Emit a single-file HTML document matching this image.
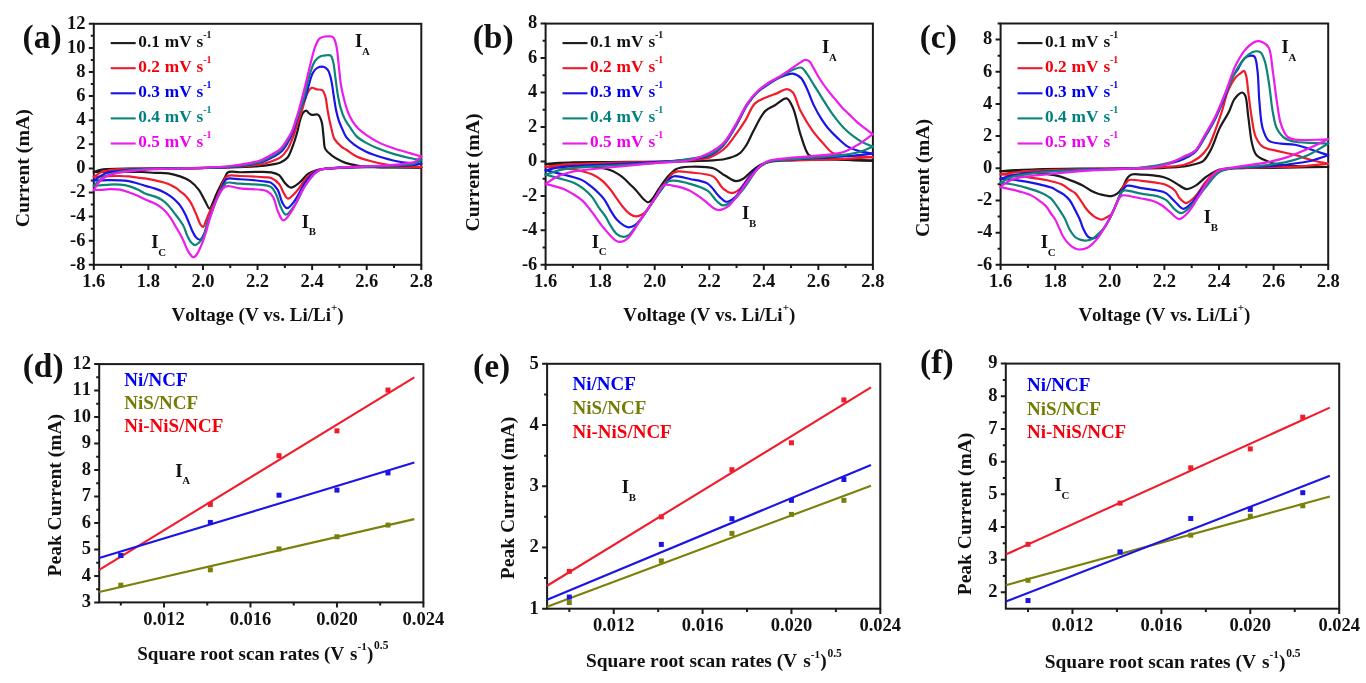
<!DOCTYPE html><html><head><meta charset="utf-8"><style>html,body{margin:0;padding:0;background:#fff;width:1366px;height:683px;overflow:hidden}svg{display:block;will-change:transform;font-kerning:none}</style></head><body>
<svg width="1366" height="683" viewBox="0 0 1366 683" font-family="'Liberation Serif', serif" font-weight="bold" fill="#111">
<rect x="93.8" y="23.8" width="327.5" height="241" fill="none" stroke="#1a1a1a" stroke-width="2.0"/>
<path d="M93.8,264.8v5.2M148.38,264.8v5.2M202.97,264.8v5.2M257.55,264.8v5.2M312.13,264.8v5.2M366.72,264.8v5.2M421.3,264.8v5.2M121.09,264.8v3.2M175.67,264.8v3.2M230.26,264.8v3.2M284.84,264.8v3.2M339.43,264.8v3.2M394.01,264.8v3.2M93.8,264.8h-5M93.8,240.7h-5M93.8,216.6h-5M93.8,192.5h-5M93.8,168.4h-5M93.8,144.3h-5M93.8,120.2h-5M93.8,96.1h-5M93.8,72h-5M93.8,47.9h-5M93.8,23.8h-5M93.8,252.75h-3M93.8,228.65h-3M93.8,204.55h-3M93.8,180.45h-3M93.8,156.35h-3M93.8,132.25h-3M93.8,108.15h-3M93.8,84.05h-3M93.8,59.95h-3M93.8,35.85h-3" stroke="#1a1a1a" stroke-width="2.0" fill="none"/>
<text x="93.8" y="287.4" text-anchor="middle" font-size="18.5">1.6</text>
<text x="148.38" y="287.4" text-anchor="middle" font-size="18.5">1.8</text>
<text x="202.97" y="287.4" text-anchor="middle" font-size="18.5">2.0</text>
<text x="257.55" y="287.4" text-anchor="middle" font-size="18.5">2.2</text>
<text x="312.13" y="287.4" text-anchor="middle" font-size="18.5">2.4</text>
<text x="366.72" y="287.4" text-anchor="middle" font-size="18.5">2.6</text>
<text x="421.3" y="287.4" text-anchor="middle" font-size="18.5">2.8</text>
<text x="85.5" y="269.6" text-anchor="end" font-size="18.5">-8</text>
<text x="85.5" y="245.5" text-anchor="end" font-size="18.5">-6</text>
<text x="85.5" y="221.4" text-anchor="end" font-size="18.5">-4</text>
<text x="85.5" y="197.3" text-anchor="end" font-size="18.5">-2</text>
<text x="85.5" y="173.2" text-anchor="end" font-size="18.5">0</text>
<text x="85.5" y="149.1" text-anchor="end" font-size="18.5">2</text>
<text x="85.5" y="125" text-anchor="end" font-size="18.5">4</text>
<text x="85.5" y="100.9" text-anchor="end" font-size="18.5">6</text>
<text x="85.5" y="76.8" text-anchor="end" font-size="18.5">8</text>
<text x="85.5" y="52.7" text-anchor="end" font-size="18.5">10</text>
<text x="85.5" y="28.6" text-anchor="end" font-size="18.5">12</text>
<path d="M93.8,172.02C96.07,171.29 98.3,170.33 100.62,169.85C102.94,169.36 104.59,169.31 107.72,169.12C113.82,168.76 124.8,168.76 134.74,168.64C146.97,168.5 163.41,168.52 175.67,168.4C185.69,168.3 193.87,168.2 202.97,168.04C212.06,167.88 221.07,167.73 230.26,167.44C239.63,167.13 252.59,166.65 258.64,166.23C261.49,166.03 262.64,165.92 264.92,165.63C267.66,165.28 271.17,164.76 273.92,164.18C276.29,163.69 278.34,163.49 280.47,162.5C282.9,161.37 285.62,159.79 287.57,157.43C289.9,154.62 291.23,150.03 292.76,146.11C294.33,142.05 295.63,137.74 296.85,133.45C298.09,129.11 298.97,123.92 300.12,120.2C301,117.4 301.6,114.63 302.85,112.97C303.76,111.77 305.08,110.5 306.13,110.56C307.18,110.62 308.11,112.58 309.13,113.33C310.03,113.99 310.72,114.62 311.86,114.9C313.43,115.28 316.3,113.8 317.86,114.66C319.56,115.59 320.51,118.15 321.41,120.8C322.79,124.83 322.92,132.08 323.6,137.07C324.18,141.32 323.71,145.77 325.23,148.88C326.53,151.52 328.82,153.12 331.24,155.02C334.11,157.28 338.25,159.6 341.61,161.17C344.5,162.53 347.22,163.42 350.07,164.18C352.86,164.93 355.15,165.32 358.53,165.75C363.5,166.38 369.57,166.77 377.09,167.07C388.67,167.55 406.56,167.4 421.3,167.56" stroke="#1a1a1a" stroke-width="2.2" fill="none" stroke-linejoin="round" stroke-linecap="round"/>
<path d="M421.3,167.56C412.2,167.44 403.11,167.26 394.01,167.19C384.91,167.13 375.81,167.07 366.72,167.19C357.62,167.32 346.06,167.65 339.43,167.92C335.61,168.07 333.27,168.21 330.42,168.4C327.84,168.57 325.38,168.72 323.05,169C320.94,169.26 319.19,169.35 317.05,169.97C314.36,170.74 311.05,171.84 308.31,173.7C305.18,175.83 302.66,180.12 299.58,182.5C296.8,184.64 293.43,187.74 290.85,187.56C288.6,187.4 286.7,184.77 284.84,182.86C282.75,180.72 281.49,176.9 279.11,175.15C276.88,173.51 274.24,172.95 271.2,172.38C267.31,171.65 262.38,171.93 257.55,171.89C252.09,171.85 245.36,172.2 240.08,172.26C235.71,172.3 230.69,170.78 228.08,172.26C226.1,173.38 225.72,176.04 224.53,178.16C223.18,180.54 221.77,183.23 220.43,185.87C219.04,188.61 217.65,191.43 216.34,194.31C215,197.25 213.72,200.71 212.52,203.34C211.56,205.43 210.89,208.85 209.79,208.89C208.38,208.94 206.36,203.15 204.6,200.09C202.72,196.82 201.24,192.99 198.87,189.85C196.44,186.62 193.38,183.33 190.14,181.05C187.07,178.9 183.6,177.62 180.04,176.35C176.33,175.03 172.36,173.93 168.31,173.34C164.09,172.73 159.57,173.08 155.21,172.86C150.84,172.64 146.79,172.2 142.11,172.02C136.7,171.8 130.44,171.81 124.64,171.77C118.89,171.73 112.85,171.73 107.45,171.77C102.63,171.82 98.35,171.93 93.8,172.02" stroke="#1a1a1a" stroke-width="2.2" fill="none" stroke-linejoin="round" stroke-linecap="round"/>
<path d="M93.8,176.84C96.44,175.23 98.7,173.2 101.71,172.02C105.14,170.67 108.93,170.17 113.45,169.61C119.47,168.86 125.63,168.89 134.74,168.64C151.04,168.2 185.35,168.39 202.97,168.04C214.11,167.82 221.08,167.73 230.26,167.19C239.63,166.65 252.61,165.67 258.64,164.78C261.51,164.36 262.4,164.21 264.92,163.46C268.99,162.25 276.54,160.21 280.47,157.43C283.65,155.2 285.57,152.35 287.57,149.24C289.72,145.9 291.22,141.81 292.76,137.91C294.32,133.94 295.4,129.95 296.85,125.62C298.47,120.77 300.31,115.49 302.04,110.2C303.86,104.62 305.33,96.9 307.49,92.97C308.82,90.56 310.21,88.25 311.86,87.79C313.26,87.39 314.85,88.97 316.5,89.35C318.29,89.76 320.79,89.07 322.23,90.08C323.76,91.14 324.44,93.46 325.23,95.86C326.38,99.3 326.67,104.84 327.42,109.11C328.12,113.14 328.82,117.15 329.6,120.8C330.29,124.05 331,126.96 331.78,129.96C332.55,132.9 332.75,135.94 334.24,138.64C335.88,141.61 339.3,144.9 341.61,146.83C343.23,148.19 344.4,148.54 346.25,149.72C349.03,151.51 352.79,154.74 356.62,156.59C360.73,158.58 365.5,159.74 370.26,161.05C375.38,162.46 380.97,163.78 386.37,164.66C391.71,165.54 396.88,165.93 402.47,166.35C408.49,166.8 415.02,166.91 421.3,167.19" stroke="#f01c2c" stroke-width="2.2" fill="none" stroke-linejoin="round" stroke-linecap="round"/>
<path d="M421.3,167.19C412.2,167.11 403.11,166.99 394.01,166.95C384.91,166.91 375.81,166.81 366.72,166.95C357.62,167.09 346.06,167.47 339.43,167.8C335.61,167.98 333.27,168.16 330.42,168.4C327.84,168.61 325.59,168.65 323.05,169.12C320.24,169.64 317.09,170.03 314.32,171.53C311.13,173.26 308.14,176.4 305.31,179.49C302.19,182.89 299.7,187.99 296.58,191.3C293.83,194.2 290.14,198.82 287.84,198.53C285.98,198.29 284.85,194.74 283.48,192.5C281.92,189.95 281.14,186.34 279.11,183.94C277.06,181.51 273.68,179.06 271.2,178.04C269.39,177.3 268.41,177.54 266.01,177.32C260.68,176.81 247.22,176.17 240.08,175.99C235.06,175.86 230.01,174.56 227.26,175.99C225.34,176.99 224.81,179.05 223.71,181.05C222.31,183.57 221.24,186.89 219.89,190.09C218.35,193.71 216.77,197.82 214.98,201.66C213.14,205.58 210.61,209.78 208.97,213.35C207.64,216.25 206.73,219.01 205.7,221.42C204.84,223.42 204.25,226.58 203.24,226.84C202.52,227.03 201.49,225.9 200.78,225.03C199.86,223.89 199.33,221.92 198.6,220.22C197.79,218.33 197,216.21 196.14,214.19C195.27,212.12 194.4,210.01 193.41,207.92C192.4,205.79 191.47,203.57 190.14,201.54C188.76,199.42 186.98,197.27 185.23,195.51C183.6,193.89 181.52,192.55 180.04,191.3C178.89,190.32 178.26,189.53 177.04,188.64C175.43,187.48 173.17,186.16 171.04,185.15C168.81,184.1 166.45,183.28 163.94,182.5C161.2,181.65 158.13,180.97 155.21,180.33C152.3,179.69 149.39,179.08 146.47,178.64C143.57,178.2 140.67,178.06 137.74,177.68C134.76,177.29 131.72,176.63 128.73,176.35C125.81,176.08 123.43,176.03 120,175.99C115.07,175.94 106.82,176.16 101.99,176.35C98.73,176.48 96.53,176.67 93.8,176.84" stroke="#f01c2c" stroke-width="2.2" fill="none" stroke-linejoin="round" stroke-linecap="round"/>
<path d="M93.8,180.45C97.44,178.2 100.66,175.3 104.72,173.7C109.06,171.99 114.09,171.56 119.18,170.81C124.77,169.99 129.12,169.56 136.92,169.12C151.94,168.27 185.74,168.38 202.97,167.92C214.04,167.62 221.09,167.76 230.26,166.95C239.65,166.13 252.63,164.37 258.64,162.98C261.53,162.31 262.42,162.02 264.92,160.93C269.02,159.14 276.54,155.66 280.47,152.25C283.66,149.5 285.53,146.29 287.57,142.97C289.63,139.63 291.23,135.98 292.76,132.25C294.34,128.4 295.47,124.32 296.85,120.2C298.29,115.89 299.65,110.97 301.22,106.95C302.58,103.44 304.38,100.71 305.58,97.3C306.86,93.7 307.42,89.79 308.59,85.86C309.85,81.61 311.1,75.89 312.95,72.72C314.22,70.55 315.49,68.87 317.32,67.9C319.2,66.91 322.29,66.4 324.14,66.94C325.72,67.4 326.98,68.82 327.96,70.19C329.03,71.67 329.53,73.65 330.15,75.61C330.84,77.83 331.25,80.01 331.78,82.85C332.53,86.83 333.22,92.59 333.97,97.3C334.68,101.82 335.27,106.45 336.15,110.56C336.94,114.21 337.76,117.52 338.88,120.8C339.96,123.98 341.4,127.12 342.7,129.96C343.86,132.5 344.57,134.81 346.25,137.07C348.21,139.71 351.1,142.24 354.16,144.54C357.63,147.15 361.77,149.58 366.17,151.65C371.05,153.94 376.55,155.73 382.27,157.43C388.58,159.31 395.81,161.23 402.47,162.25C408.82,163.23 415.02,163.14 421.3,163.58" stroke="#1c14e6" stroke-width="2.2" fill="none" stroke-linejoin="round" stroke-linecap="round"/>
<path d="M421.3,163.58C419.21,164.06 417.3,164.67 415.02,165.03C412.37,165.44 409.45,165.56 406.29,165.75C402.55,165.98 398.91,166.08 394.01,166.23C386.7,166.45 375.81,166.59 366.72,166.83C357.62,167.07 346.06,167.31 339.43,167.68C335.61,167.89 333.27,168.17 330.42,168.4C327.84,168.61 325.47,168.5 323.05,169C320.56,169.52 318.15,169.94 315.68,171.53C312.25,173.74 308.51,178.2 305.31,182.5C301.61,187.47 298.71,195.41 295.21,199.97C292.56,203.43 289.35,208.28 287.02,208.17C285.12,208.07 283.53,204.65 282.11,202.14C280.28,198.89 279.79,193.2 277.75,189.85C275.99,186.97 273.46,184.16 271.2,182.86C269.51,181.89 268.42,182.04 266.01,181.66C260.69,180.79 247.31,179.68 240.08,179.25C234.9,178.93 229.16,177.74 226.71,178.88C225.45,179.47 225.27,180.4 224.53,181.66C223.29,183.75 222.08,187.76 220.71,190.69C219.35,193.58 217.7,196.02 216.34,199.13C214.76,202.74 213.45,207.22 211.97,211.18C210.53,215.05 208.96,218.74 207.61,222.62C206.23,226.57 205.3,231.6 203.79,234.68C202.72,236.82 201.65,239.43 200.24,239.74C198.97,240.02 197.14,238.48 195.87,237.21C194.3,235.62 193.18,232.79 192.05,230.46C190.9,228.09 190.12,225.67 189.05,223.11C187.86,220.27 186.7,217.11 185.23,214.19C183.71,211.2 181.63,207.61 180.04,205.39C178.98,203.91 178.26,203.14 177.04,201.9C175.43,200.26 173.2,198.19 171.04,196.6C168.83,194.97 166.48,193.55 163.94,192.26C161.23,190.88 158.15,189.67 155.21,188.64C152.32,187.63 149.38,186.98 146.47,186.11C143.56,185.25 140.68,184.28 137.74,183.46C134.77,182.63 131.73,181.7 128.73,181.17C125.82,180.66 123.18,180.5 120,180.33C116.2,180.13 111.08,180.17 107.45,180.21C104.66,180.24 102.44,180.41 100.08,180.45C97.9,180.49 95.89,180.45 93.8,180.45" stroke="#1c14e6" stroke-width="2.2" fill="none" stroke-linejoin="round" stroke-linecap="round"/>
<path d="M93.8,185.87C96.44,183.38 98.61,180.46 101.71,178.4C105.08,176.17 109.06,174.58 113.45,173.22C118.61,171.62 125.07,170.69 130.92,169.97C136.72,169.25 140.94,169.19 148.38,168.88C161.53,168.34 187.9,168.28 202.97,167.8C213.63,167.46 221.09,167.47 230.26,166.59C239.65,165.69 252.65,164.05 258.64,162.38C261.56,161.56 262.42,161 264.92,159.72C269.01,157.64 276.54,153.91 280.47,150.33C283.67,147.41 285.58,143.99 287.57,140.69C289.45,137.56 290.78,134.39 292.21,131.05C293.7,127.57 294.94,123.82 296.3,120.2C297.67,116.58 299.09,113.17 300.4,109.35C301.83,105.18 303.25,100.73 304.49,96.1C305.82,91.12 306.79,85.16 308.04,80.44C309.09,76.47 310.07,72.98 311.31,69.59C312.46,66.47 313.4,63.08 315.14,60.79C316.62,58.83 318.68,57.22 320.59,56.33C322.25,55.57 324.07,55.49 325.78,55.37C327.43,55.26 329.49,54.75 330.69,55.61C332.09,56.61 332.46,59.2 333.15,61.76C334.19,65.65 334.61,71.81 335.33,76.94C336.07,82.21 336.63,87.75 337.51,92.97C338.37,97.99 339.2,103.1 340.52,107.67C341.71,111.84 343.1,115.83 344.88,119.36C346.52,122.6 348.64,125.3 350.61,128.15C352.56,130.96 354.14,133.95 356.62,136.35C359.26,138.9 362.72,140.88 366.17,142.85C369.87,144.97 373.83,146.73 378.18,148.52C383.11,150.54 388.56,152.5 394.28,154.18C400.59,156.04 409.51,158.1 414.48,159C417.34,159.52 419.03,159.56 421.3,159.84" stroke="#0c8478" stroke-width="2.2" fill="none" stroke-linejoin="round" stroke-linecap="round"/>
<path d="M421.3,159.84C419.21,161.01 417.37,162.52 415.02,163.34C412.42,164.25 409.46,164.4 406.29,164.78C402.55,165.24 398.91,165.48 394.01,165.75C386.71,166.15 375.81,166.29 366.72,166.59C357.62,166.89 346.06,167.17 339.43,167.56C335.61,167.78 333.27,168.03 330.42,168.28C327.84,168.51 325.34,168.42 323.05,169C320.9,169.55 319.18,169.97 317.05,171.53C313.49,174.14 308.83,180.19 305.31,185.39C301.48,191.05 298.9,199.25 295.21,204.43C292.24,208.6 288.2,214.91 285.66,214.67C283.6,214.48 282.22,209.95 280.75,206.96C278.95,203.32 277.94,197.73 276.11,194.19C274.65,191.36 273.13,188.52 271.2,187.08C269.66,185.93 268.44,185.86 266.01,185.39C260.71,184.37 247.35,184.16 240.08,183.7C234.81,183.37 229.02,181.73 226.44,182.86C225.06,183.46 224.81,184.68 223.98,185.87C222.91,187.41 221.84,189.34 220.71,191.42C219.31,193.96 217.71,196.94 216.34,200.09C214.78,203.69 213.43,207.98 211.97,211.9C210.52,215.81 209.02,219.54 207.61,223.59C206.1,227.91 205.04,233.66 203.24,237.09C201.96,239.52 200.39,241.34 198.87,242.75C197.69,243.85 196.44,245.15 195.22,245.16C193.98,245.16 192.66,243.95 191.5,242.75C189.9,241.07 188.42,238.05 187.14,235.4C185.75,232.54 184.92,228.76 183.59,226.12C182.51,223.97 181.39,222.52 180.04,220.58C178.46,218.3 176.48,215.8 174.58,213.35C172.58,210.75 170.48,207.69 168.31,205.39C166.37,203.35 164.49,201.56 162.3,200.09C160.12,198.63 157.74,197.58 155.21,196.6C152.49,195.54 149.33,195.2 146.47,194.07C143.5,192.89 140.71,190.94 137.74,189.61C134.79,188.29 131.76,186.94 128.73,186.11C125.84,185.32 123.01,184.93 120,184.67C116.83,184.39 113.57,184.43 110.17,184.55C106.5,184.68 101.74,185.27 98.71,185.51C96.73,185.67 95.44,185.75 93.8,185.87" stroke="#0c8478" stroke-width="2.2" fill="none" stroke-linejoin="round" stroke-linecap="round"/>
<path d="M93.8,190.09C95.44,187.56 96.82,184.67 98.71,182.5C100.49,180.46 102.22,178.76 104.72,177.32C107.85,175.51 111.94,174.3 116.45,173.22C122.27,171.83 130.09,171.13 136.92,170.45C143.73,169.77 149.22,169.51 157.39,169.12C169.58,168.55 189.72,168.43 202.97,167.8C213.23,167.31 222.15,166.86 230.26,165.99C236.82,165.28 242.85,164.3 248,163.34C252.01,162.59 255.6,161.93 258.64,160.93C261.05,160.13 262.41,159.45 264.92,158.16C269,156.05 276.56,152.5 280.47,148.88C283.7,145.9 285.57,141.9 287.57,138.88C289.17,136.47 290.43,134.87 291.66,132.25C293.24,128.9 294.52,124 295.76,120.2C296.86,116.82 297.65,114.44 298.76,110.56C300.42,104.75 302.59,96.17 304.49,88.63C306.51,80.62 308.61,71.18 310.5,63.81C312.02,57.84 313.16,52.16 314.86,47.66C316.17,44.21 317.42,40.68 319.23,38.86C320.51,37.58 322.03,37.1 323.6,36.69C325.21,36.28 327.22,36.44 328.78,36.45C330.08,36.47 331.37,36.19 332.33,36.69C333.28,37.2 333.89,38.21 334.51,39.47C335.48,41.41 336.06,44.34 336.7,47.66C337.64,52.64 338.15,60.26 338.88,66.58C339.61,72.91 340.07,79.7 341.06,85.62C341.94,90.86 343.13,95.72 344.34,100.32C345.43,104.46 346.47,108.44 347.89,112.01C349.15,115.2 350.54,118.08 352.25,120.8C353.92,123.45 355.75,125.88 357.98,128.15C360.35,130.57 363.1,132.61 366.17,134.78C369.72,137.29 373.78,139.93 378.18,142.13C383.06,144.57 388.85,146.64 394.28,148.52C399.67,150.38 405.79,151.88 410.66,153.34C414.59,154.52 417.75,155.51 421.3,156.59" stroke="#ec1cec" stroke-width="2.2" fill="none" stroke-linejoin="round" stroke-linecap="round"/>
<path d="M421.3,156.59C419.21,158.28 417.44,160.51 415.02,161.65C412.48,162.86 409,163.01 406.29,163.46C403.96,163.85 402.2,164.05 399.74,164.3C396.57,164.63 392.26,164.9 388.82,165.15C385.75,165.37 383.31,165.57 380.09,165.75C376.11,165.98 371.36,166.16 366.72,166.35C361.66,166.56 356.5,166.67 350.89,166.95C344.5,167.28 336.08,167.67 330.42,168.28C326.37,168.72 322.9,168.74 320.05,169.85C317.74,170.75 316.37,171.72 314.32,173.7C310.82,177.07 306.16,183.99 302.58,189.85C298.74,196.13 295.87,204.87 292.21,210.33C289.42,214.5 285.94,220.64 283.48,220.46C281.32,220.29 279.62,215.16 278.02,211.78C276.05,207.62 275.37,200.67 273.11,197.08C271.44,194.45 269.22,192.49 267.1,191.3C265.36,190.31 264.09,190.25 261.64,189.85C256.86,189.06 245.99,189.2 240.08,188.4C235.89,187.84 232.22,186.36 229.44,186.23C227.67,186.15 226.41,186.04 225.07,186.72C223.45,187.53 222.04,189.5 220.71,191.42C219.07,193.78 217.71,196.94 216.34,200.09C214.78,203.69 213.22,208.25 211.97,211.9C210.91,215 210.16,217.54 209.24,220.58C208.25,223.9 207.27,227.68 206.24,231.06C205.27,234.26 204.37,237.28 203.24,240.34C202.1,243.42 200.76,246.79 199.42,249.5C198.28,251.79 197.18,254.35 195.87,255.64C194.99,256.51 193.95,257.33 193.06,257.21C192.08,257.07 191.2,255.55 190.3,254.44C189.21,253.07 188.14,251.42 187.14,249.5C185.88,247.08 184.85,243.67 183.59,240.94C182.39,238.34 181.05,235.81 179.77,233.47C178.6,231.34 177.52,229.64 176.22,227.44C174.66,224.79 172.87,221.37 171.04,218.65C169.31,216.1 167.56,213.63 165.58,211.54C163.72,209.57 161.67,207.85 159.57,206.36C157.57,204.93 155.47,203.78 153.3,202.74C151.11,201.69 148.86,201.15 146.47,200.09C143.72,198.87 140.7,197.06 137.74,195.75C134.79,194.45 131.73,193.29 128.73,192.26C125.82,191.25 123.03,190.13 120,189.61C116.85,189.06 113.43,189.08 110.17,189.13C106.97,189.17 103.54,189.69 100.62,189.85C98.16,189.99 96.07,190.01 93.8,190.09" stroke="#ec1cec" stroke-width="2.2" fill="none" stroke-linejoin="round" stroke-linecap="round"/>
<line x1="110.7" y1="43.1" x2="135.7" y2="43.1" stroke="#1a1a1a" stroke-width="2.1"/>
<text x="138.3" y="46.8" font-size="17.3" word-spacing="0.6" fill="#111111">0.1 mV s<tspan font-size="9.8" dx="-0.2" dy="-8.9">-1</tspan></text>
<line x1="110.7" y1="68.2" x2="135.7" y2="68.2" stroke="#f01c2c" stroke-width="2.1"/>
<text x="138.3" y="71.9" font-size="17.3" word-spacing="0.6" fill="#f5000a">0.2 mV s<tspan font-size="9.8" dx="-0.2" dy="-8.9">-1</tspan></text>
<line x1="110.7" y1="93.3" x2="135.7" y2="93.3" stroke="#1c14e6" stroke-width="2.1"/>
<text x="138.3" y="97" font-size="17.3" word-spacing="0.6" fill="#0000f0">0.3 mV s<tspan font-size="9.8" dx="-0.2" dy="-8.9">-1</tspan></text>
<line x1="110.7" y1="118.4" x2="135.7" y2="118.4" stroke="#0c8478" stroke-width="2.1"/>
<text x="138.3" y="122.1" font-size="17.3" word-spacing="0.6" fill="#007f7f">0.4 mV s<tspan font-size="9.8" dx="-0.2" dy="-8.9">-1</tspan></text>
<line x1="110.7" y1="143.5" x2="135.7" y2="143.5" stroke="#ec1cec" stroke-width="2.1"/>
<text x="138.3" y="147.2" font-size="17.3" word-spacing="0.6" fill="#f000f0">0.5 mV s<tspan font-size="9.8" dx="-0.2" dy="-8.9">-1</tspan></text>
<text x="257.55" y="321.3" text-anchor="middle" font-size="19">Voltage (V vs. Li/Li<tspan font-size="11" dy="-10.5">+</tspan><tspan dy="10.5">)</tspan></text>
<text transform="translate(29,168.3) rotate(-90)" text-anchor="middle" font-size="19.8">Current (mA)</text>
<rect x="545.6" y="23.6" width="327.3" height="241.2" fill="none" stroke="#1a1a1a" stroke-width="2.0"/>
<path d="M545.6,264.8v5.2M600.15,264.8v5.2M654.7,264.8v5.2M709.25,264.8v5.2M763.8,264.8v5.2M818.35,264.8v5.2M872.9,264.8v5.2M572.88,264.8v3.2M627.42,264.8v3.2M681.98,264.8v3.2M736.52,264.8v3.2M791.08,264.8v3.2M845.62,264.8v3.2M545.6,264.8h-5M545.6,230.34h-5M545.6,195.89h-5M545.6,161.43h-5M545.6,126.97h-5M545.6,92.51h-5M545.6,58.06h-5M545.6,23.6h-5M545.6,247.57h-3M545.6,213.11h-3M545.6,178.66h-3M545.6,144.2h-3M545.6,109.74h-3M545.6,75.29h-3M545.6,40.83h-3" stroke="#1a1a1a" stroke-width="2.0" fill="none"/>
<text x="545.6" y="287.4" text-anchor="middle" font-size="18.5">1.6</text>
<text x="600.15" y="287.4" text-anchor="middle" font-size="18.5">1.8</text>
<text x="654.7" y="287.4" text-anchor="middle" font-size="18.5">2.0</text>
<text x="709.25" y="287.4" text-anchor="middle" font-size="18.5">2.2</text>
<text x="763.8" y="287.4" text-anchor="middle" font-size="18.5">2.4</text>
<text x="818.35" y="287.4" text-anchor="middle" font-size="18.5">2.6</text>
<text x="872.9" y="287.4" text-anchor="middle" font-size="18.5">2.8</text>
<text x="537.3" y="269.6" text-anchor="end" font-size="18.5">-6</text>
<text x="537.3" y="235.14" text-anchor="end" font-size="18.5">-4</text>
<text x="537.3" y="200.69" text-anchor="end" font-size="18.5">-2</text>
<text x="537.3" y="166.23" text-anchor="end" font-size="18.5">0</text>
<text x="537.3" y="131.77" text-anchor="end" font-size="18.5">2</text>
<text x="537.3" y="97.31" text-anchor="end" font-size="18.5">4</text>
<text x="537.3" y="62.86" text-anchor="end" font-size="18.5">6</text>
<text x="537.3" y="28.4" text-anchor="end" font-size="18.5">8</text>
<path d="M545.6,164.01C550.15,163.61 554.69,163.07 559.24,162.81C563.78,162.55 567.55,162.56 572.88,162.46C580.41,162.32 591.06,162.2 600.15,162.12C609.24,162.03 616.77,162.03 627.42,161.95C642.49,161.83 664.87,161.99 681.98,161.43C697.19,160.93 714.71,161.2 725.07,159.02C731.21,157.72 735.59,156.3 739.25,153.68C742.4,151.42 744.15,148.43 746.34,145.06C748.95,141.05 750.67,135.99 753.44,130.93C756.77,124.83 760.82,115.48 765.16,111.12C768.22,108.05 771.59,107.3 774.98,105.26C778.66,103.06 783.41,97.74 786.44,98.37C789.16,98.94 790.8,103.19 792.71,107.16C795.83,113.64 797.75,126.49 800.62,134.9C803.09,142.12 805.56,151.85 808.53,154.71C809.91,156.04 810.72,155.77 812.89,156.26C818.69,157.58 835.2,158.99 845.62,159.71C855.12,160.35 863.81,160.28 872.9,160.57" stroke="#1a1a1a" stroke-width="2.2" fill="none" stroke-linejoin="round" stroke-linecap="round"/>
<path d="M872.9,160.57C855.26,160.22 837.19,159.36 819.99,159.53C803.59,159.7 782.5,159.7 771.98,161.43C766.68,162.3 763.79,163.09 760.25,164.87C756.8,166.62 753.94,169.54 750.98,171.94C748.13,174.25 745.6,177.48 742.8,179C740.48,180.26 738.26,181.32 735.71,181.07C732.46,180.75 728.66,177.59 725.07,175.56C721.22,173.37 718.15,169.86 713.34,168.32C707.06,166.31 695.86,166.68 689.88,166.77C686.18,166.82 683.41,167.12 680.88,167.63C678.98,168.02 677.68,168.21 675.97,169.18C673.56,170.56 670.88,173.26 668.34,176.07C665.16,179.58 661.66,184.89 658.79,188.99C656.27,192.6 654.1,197.04 651.97,199.33C650.64,200.76 649.53,202.24 648.15,202.26C646.56,202.28 644.7,200.08 642.97,198.47C640.8,196.44 638.61,193.1 636.43,190.72C634.43,188.54 632.52,186.76 630.43,184.69C628.17,182.46 625.76,179.78 623.33,177.8C621.11,175.98 618.82,174.46 616.51,173.14C614.36,171.91 612.32,170.89 609.97,170.04C607.43,169.13 604.95,168.61 601.79,167.98C597.5,167.12 591.47,166.25 586.51,165.74C581.85,165.25 577.42,165.1 572.88,164.87C568.33,164.64 563.78,164.5 559.24,164.36C554.69,164.21 550.15,164.13 545.6,164.01" stroke="#1a1a1a" stroke-width="2.2" fill="none" stroke-linejoin="round" stroke-linecap="round"/>
<path d="M545.6,166.77C550.51,166.14 554.71,165.36 560.33,164.87C567.8,164.22 576.81,164.03 586.51,163.67C598.63,163.21 612.81,162.93 627.42,162.46C644.3,161.92 666.93,161.64 681.98,160.57C692.64,159.81 702.35,159.72 709.25,157.64C713.87,156.24 717.06,154.09 720.16,151.95C722.83,150.12 724.82,148.2 726.98,145.92C729.3,143.47 731.08,140.97 733.52,137.65C737,132.94 741.86,125.94 745.53,120.08C749.01,114.51 750.85,107.38 755.07,103.37C758.87,99.75 764.95,98.07 768.98,96.3C771.95,95.01 774.11,94.48 776.89,93.38C780.07,92.11 784.13,88.9 786.98,89.07C789.2,89.2 790.95,90.35 792.71,92.34C795.81,95.83 797.44,104.89 800.62,111.12C804.01,117.76 808.4,125.08 812.62,130.93C816.36,136.11 820.75,140.81 824.35,144.72C827.18,147.79 828.96,150.86 832.26,152.64C835.9,154.61 840.35,154.69 845.62,155.4C853.08,156.4 863.81,156.55 872.9,157.12" stroke="#f01c2c" stroke-width="2.2" fill="none" stroke-linejoin="round" stroke-linecap="round"/>
<path d="M872.9,157.12C863.81,157.7 856.28,158.34 845.62,158.84C830.57,159.56 805.16,160.07 791.08,160.57C782.16,160.88 774.8,159.83 769.25,161.43C765.43,162.53 763.31,164.31 760.25,166.6C756.43,169.45 752.08,173.89 748.53,177.8C745.11,181.54 742.6,186.97 739.25,189.51C736.68,191.47 733.76,193.12 731.07,192.96C728.3,192.79 725.52,190.53 722.89,188.31C719.55,185.48 717.87,179.25 713.34,176.59C707.65,173.25 696.42,173.31 689.88,172.45C685.24,171.85 681.07,170.98 677.88,171.42C675.67,171.73 673.99,172.35 672.43,173.49C670.77,174.7 669.94,176.49 668.34,178.66C665.77,182.12 661.84,187.99 658.79,192.44C655.95,196.59 653.07,200.93 650.61,204.5C648.62,207.38 646.92,210.45 645.15,212.25C643.95,213.48 642.97,214.16 641.61,214.84C640.1,215.59 638.24,216.44 636.43,216.39C634.36,216.32 631.93,215.29 629.88,213.98C627.52,212.47 625.45,209.89 623.33,207.43C620.98,204.68 618.76,201.22 616.51,198.13C614.3,195.07 612.38,191.91 609.97,188.99C607.49,185.99 604.81,182.83 601.79,180.38C598.8,177.96 595.66,175.99 591.97,174.35C587.78,172.5 582.8,171.31 577.78,170.22C572.31,169.02 565.91,168.21 560.33,167.63C555.22,167.1 550.51,167.06 545.6,166.77" stroke="#f01c2c" stroke-width="2.2" fill="none" stroke-linejoin="round" stroke-linecap="round"/>
<path d="M545.6,170.22C550.51,169.18 554.67,167.89 560.33,167.11C567.83,166.08 577.02,165.94 586.79,165.39C598.88,164.72 612.89,164.29 627.42,163.5C644.28,162.57 666.95,161.8 681.98,160.05C692.67,158.8 701.97,158.37 709.25,155.4C714.89,153.09 718.79,150.11 722.89,145.92C727.68,141.02 731.45,133.65 735.43,126.97C739.65,119.91 743.33,110.73 747.43,104.57C750.65,99.76 753.59,96 757.25,92.51C760.8,89.14 764.98,86.51 768.98,83.9C772.89,81.35 776.9,78.75 780.98,77.01C784.82,75.37 789.22,73.21 792.71,73.56C795.75,73.87 798.65,75.69 800.89,77.87C803.41,80.32 804.71,84.12 806.62,88.03C809.07,93.04 811.37,100.23 813.99,105.61C816.32,110.41 818.77,114.82 821.35,118.87C823.7,122.56 826.02,125.87 828.71,129.04C831.39,132.19 834.34,134.96 837.44,137.83C840.69,140.83 844.07,144.38 847.81,146.61C851.37,148.74 855.22,149.93 859.26,151.09C863.56,152.33 868.35,152.81 872.9,153.68" stroke="#1c14e6" stroke-width="2.2" fill="none" stroke-linejoin="round" stroke-linecap="round"/>
<path d="M872.9,153.68C863.81,154.54 856.28,155.42 845.62,156.26C830.57,157.45 805.16,158.7 791.08,159.71C782.16,160.34 775.13,159.66 769.25,161.43C764.82,162.76 761.86,164.6 758.35,167.46C753.97,171.02 749.76,177.07 745.8,182.1C741.85,187.12 738.51,194.32 734.62,197.61C731.88,199.91 728.76,202 726.16,201.74C723.69,201.5 721.81,198.83 719.34,196.57C715.82,193.35 712.44,186.58 707.61,183.65C702.67,180.65 695.65,180.26 689.88,179C684.49,177.83 677.63,175.65 674.07,176.25C672.08,176.58 671.12,177.46 669.7,178.66C667.82,180.25 666.28,182.85 664.25,185.55C661.47,189.23 658.13,193.9 654.7,198.81C650.52,204.81 644.86,214.29 641.06,218.97C638.8,221.76 637.29,223.76 635.06,225.17C633.06,226.44 630.56,227.49 628.52,227.41C626.67,227.34 625.09,226.27 623.33,225.17C621.11,223.79 618.61,221.7 616.51,219.32C614.1,216.56 612.03,212.69 609.97,209.32C607.94,206.02 606.37,202.25 604.24,199.33C602.33,196.7 600.16,194.6 597.97,192.44C595.8,190.3 593.6,188.36 591.15,186.41C588.53,184.33 585.74,181.96 582.69,180.38C579.65,178.8 576.37,177.98 572.88,176.93C568.97,175.77 564.68,174.91 560.33,173.83C555.62,172.67 550.51,171.42 545.6,170.22" stroke="#1c14e6" stroke-width="2.2" fill="none" stroke-linejoin="round" stroke-linecap="round"/>
<path d="M545.6,174.69C550.51,173.09 555.15,171.04 560.33,169.87C565.84,168.63 571.35,168.25 577.78,167.63C585.68,166.87 595.71,166.38 604.24,165.91C612.22,165.47 618.08,165.5 627.42,164.87C641.79,163.92 666.96,162.22 681.98,160.05C692.68,158.5 701.97,157.64 709.25,154.54C714.88,152.14 718.79,149.25 722.89,145.06C727.68,140.16 731.45,132.79 735.43,126.11C739.65,119.05 743.31,109.81 747.43,103.71C750.63,98.98 753.63,95.47 757.25,92C760.82,88.59 764.96,85.71 768.98,83.04C772.88,80.45 776.41,78.44 780.98,76.15C786.71,73.27 796.44,66.66 800.89,67.53C803.63,68.07 804.72,70.98 806.62,73.39C809.09,76.52 811.53,81.2 813.99,85.11C816.44,89.01 818.9,92.92 821.35,96.82C823.81,100.73 826.2,104.79 828.71,108.54C831.12,112.13 833.44,115.5 836.08,118.87C838.79,122.34 841.77,126.02 844.81,129.04C847.61,131.83 850.55,134.22 853.53,136.45C856.38,138.57 859.13,140.47 862.26,142.13C865.56,143.88 869.35,145.12 872.9,146.61" stroke="#0c8478" stroke-width="2.2" fill="none" stroke-linejoin="round" stroke-linecap="round"/>
<path d="M872.9,146.61C868.35,148.39 863.87,150.63 859.26,151.95C854.78,153.24 851.71,153.69 845.62,154.54C833.53,156.21 805.16,158.07 791.08,159.36C782.16,160.18 775.09,159.44 769.25,161.43C764.77,162.96 761.87,165 758.35,168.32C753.6,172.79 749.28,181.56 744.71,187.27C740.64,192.35 736.6,197.99 732.43,201.05C729.29,203.36 725.64,205.61 722.89,205.36C720.59,205.15 718.98,203.09 716.89,201.23C713.98,198.65 711.62,193.51 707.61,190.72C702.95,187.46 695.73,185.51 689.88,183.83C684.46,182.26 677.75,180.91 673.79,180.72C671.5,180.61 669.91,180.48 668.34,181.24C666.7,182.04 665.82,183.65 664.25,185.55C661.64,188.7 658.13,193.9 654.7,198.81C650.52,204.81 645.41,212.81 641.06,218.97C637.28,224.33 632.27,231.53 630.15,233.79C629.43,234.56 629.27,234.75 628.52,235.17C627.31,235.84 625.16,236.99 623.33,236.89C621.2,236.78 618.57,235.47 616.51,233.79C614,231.72 611.85,227.67 609.97,224.66C608.27,221.93 607.33,219.23 605.61,216.56C603.74,213.66 601.2,211.03 599.06,207.95C596.73,204.58 594.95,200.38 592.24,197.09C589.5,193.77 586.02,190.64 582.69,188.13C579.63,185.83 576.67,183.99 573.15,182.45C569.28,180.76 564.76,179.91 560.33,178.66C555.6,177.32 550.51,176.02 545.6,174.69" stroke="#0c8478" stroke-width="2.2" fill="none" stroke-linejoin="round" stroke-linecap="round"/>
<path d="M545.6,184C549.05,181.76 552.19,179.17 555.96,177.28C559.97,175.27 564.61,173.63 569.06,172.45C573.43,171.29 577.41,170.89 582.42,170.22C588.8,169.35 597.26,168.66 604.24,167.98C610.67,167.35 615.77,166.92 622.79,166.25C631.99,165.38 643.8,164.13 654.7,163.15C666.14,162.12 679.95,162.48 689.88,160.22C697.6,158.47 703.92,155.77 709.8,152.64C715.04,149.85 719.61,147.06 723.71,142.82C728.3,138.07 731.61,131.22 735.43,124.9C739.53,118.12 743.36,109.34 747.43,103.37C750.66,98.65 753.62,94.98 757.25,91.48C760.81,88.05 764.96,85.2 768.98,82.52C772.88,79.93 777.05,78.08 780.98,75.63C784.96,73.15 789.19,70.09 792.71,67.71C795.61,65.75 798.3,63.75 800.62,62.36C802.34,61.34 803.72,60.03 805.26,59.95C806.72,59.88 808.33,60.58 809.62,61.68C811.36,63.15 812.43,66.28 813.99,68.91C815.84,72.04 817.83,75.86 819.99,79.25C822.19,82.7 824.63,86.18 827.08,89.41C829.45,92.54 831.98,95.41 834.44,98.37C836.89,101.32 839.28,104.43 841.81,107.16C844.2,109.75 846.72,111.98 849.17,114.39C851.63,116.81 854.03,119.38 856.54,121.63C858.94,123.79 861.29,125.65 863.9,127.66C866.72,129.84 869.9,132.03 872.9,134.21" stroke="#ec1cec" stroke-width="2.2" fill="none" stroke-linejoin="round" stroke-linecap="round"/>
<path d="M872.9,134.21C867.9,137.71 862.88,141.7 857.9,144.72C853.34,147.48 849.11,150.12 844.26,151.78C839.3,153.48 834.93,153.84 828.44,154.71C818.25,156.07 799.74,156.81 788.89,157.98C781.29,158.8 774.67,158.78 769.53,160.57C765.71,161.89 763.31,163.49 760.25,166.08C756.28,169.45 752.34,175.1 748.53,180.04C744.51,185.24 740.5,191.88 736.8,196.57C733.85,200.31 731.23,203.98 728.34,206.22C726.11,207.95 723.47,209.1 721.52,209.67C720.19,210.06 719.21,210.21 717.98,210.01C716.51,209.77 715.02,209 713.34,207.95C710.9,206.42 707.93,203.21 705.16,201.05C702.47,198.97 699.63,196.98 696.98,195.2C694.55,193.57 692.4,191.97 689.88,190.72C687.32,189.44 684.44,188.43 681.7,187.62C679.07,186.84 676.59,186.32 673.79,185.89C670.71,185.42 666.86,183.65 663.97,185.03C660.23,186.82 658.09,193.79 654.7,198.81C650.59,204.9 645.48,212.42 641.06,218.97C636.86,225.21 632.08,233.68 628.79,237.23C627.13,239.02 626.04,239.9 624.42,240.68C622.85,241.44 620.82,242.01 619.24,241.89C617.85,241.78 616.73,241.18 615.42,240.34C613.66,239.2 611.92,237.21 609.97,235.17C607.46,232.54 604.54,229.18 601.79,225.69C598.64,221.7 595.49,216.64 592.24,212.43C589.12,208.39 586.1,204.03 582.69,200.88C579.69,198.1 576.39,196.17 573.15,194.16C570.02,192.23 566.85,190.36 563.6,188.99C560.48,187.69 557.15,186.92 554.06,186.07C551.16,185.27 548.42,184.69 545.6,184" stroke="#ec1cec" stroke-width="2.2" fill="none" stroke-linejoin="round" stroke-linecap="round"/>
<line x1="562.5" y1="43.1" x2="587.5" y2="43.1" stroke="#1a1a1a" stroke-width="2.1"/>
<text x="590.1" y="46.8" font-size="17.3" word-spacing="0.6" fill="#111111">0.1 mV s<tspan font-size="9.8" dx="-0.2" dy="-8.9">-1</tspan></text>
<line x1="562.5" y1="68.2" x2="587.5" y2="68.2" stroke="#f01c2c" stroke-width="2.1"/>
<text x="590.1" y="71.9" font-size="17.3" word-spacing="0.6" fill="#f5000a">0.2 mV s<tspan font-size="9.8" dx="-0.2" dy="-8.9">-1</tspan></text>
<line x1="562.5" y1="93.3" x2="587.5" y2="93.3" stroke="#1c14e6" stroke-width="2.1"/>
<text x="590.1" y="97" font-size="17.3" word-spacing="0.6" fill="#0000f0">0.3 mV s<tspan font-size="9.8" dx="-0.2" dy="-8.9">-1</tspan></text>
<line x1="562.5" y1="118.4" x2="587.5" y2="118.4" stroke="#0c8478" stroke-width="2.1"/>
<text x="590.1" y="122.1" font-size="17.3" word-spacing="0.6" fill="#007f7f">0.4 mV s<tspan font-size="9.8" dx="-0.2" dy="-8.9">-1</tspan></text>
<line x1="562.5" y1="143.5" x2="587.5" y2="143.5" stroke="#ec1cec" stroke-width="2.1"/>
<text x="590.1" y="147.2" font-size="17.3" word-spacing="0.6" fill="#f000f0">0.5 mV s<tspan font-size="9.8" dx="-0.2" dy="-8.9">-1</tspan></text>
<text x="709.25" y="321.3" text-anchor="middle" font-size="19">Voltage (V vs. Li/Li<tspan font-size="11" dy="-10.5">+</tspan><tspan dy="10.5">)</tspan></text>
<text transform="translate(478.5,172.5) rotate(-90)" text-anchor="middle" font-size="19.8">Current (mA)</text>
<rect x="1000.6" y="23.5" width="327.6" height="241.3" fill="none" stroke="#1a1a1a" stroke-width="2.0"/>
<path d="M1000.6,264.8v5.2M1055.2,264.8v5.2M1109.8,264.8v5.2M1164.4,264.8v5.2M1219,264.8v5.2M1273.6,264.8v5.2M1328.2,264.8v5.2M1027.9,264.8v3.2M1082.5,264.8v3.2M1137.1,264.8v3.2M1191.7,264.8v3.2M1246.3,264.8v3.2M1300.9,264.8v3.2M1000.6,264.8h-5M1000.6,232.63h-5M1000.6,200.45h-5M1000.6,168.28h-5M1000.6,136.11h-5M1000.6,103.93h-5M1000.6,71.76h-5M1000.6,39.59h-5M1000.6,248.71h-3M1000.6,216.54h-3M1000.6,184.37h-3M1000.6,152.19h-3M1000.6,120.02h-3M1000.6,87.85h-3M1000.6,55.67h-3M1000.6,23.5h-3" stroke="#1a1a1a" stroke-width="2.0" fill="none"/>
<text x="1000.6" y="287.4" text-anchor="middle" font-size="18.5">1.6</text>
<text x="1055.2" y="287.4" text-anchor="middle" font-size="18.5">1.8</text>
<text x="1109.8" y="287.4" text-anchor="middle" font-size="18.5">2.0</text>
<text x="1164.4" y="287.4" text-anchor="middle" font-size="18.5">2.2</text>
<text x="1219" y="287.4" text-anchor="middle" font-size="18.5">2.4</text>
<text x="1273.6" y="287.4" text-anchor="middle" font-size="18.5">2.6</text>
<text x="1328.2" y="287.4" text-anchor="middle" font-size="18.5">2.8</text>
<text x="992.3" y="269.6" text-anchor="end" font-size="18.5">-6</text>
<text x="992.3" y="237.43" text-anchor="end" font-size="18.5">-4</text>
<text x="992.3" y="205.25" text-anchor="end" font-size="18.5">-2</text>
<text x="992.3" y="173.08" text-anchor="end" font-size="18.5">0</text>
<text x="992.3" y="140.91" text-anchor="end" font-size="18.5">2</text>
<text x="992.3" y="108.73" text-anchor="end" font-size="18.5">4</text>
<text x="992.3" y="76.56" text-anchor="end" font-size="18.5">6</text>
<text x="992.3" y="44.39" text-anchor="end" font-size="18.5">8</text>
<path d="M1000.6,171.18C1005.61,170.85 1010.22,170.51 1015.62,170.21C1021.91,169.86 1027.89,169.5 1036.09,169.25C1048.44,168.87 1066.18,168.74 1082.5,168.6C1100.73,168.45 1125.26,168.66 1140.38,168.44C1150.12,168.3 1156.77,168.18 1164.4,167.8C1171.36,167.45 1178.82,167.12 1184.33,166.35C1188.28,165.8 1191.22,165.18 1194.43,164.26C1197.48,163.39 1200.58,163.07 1203.17,161.04C1206.41,158.48 1208.85,153.56 1211.36,148.82C1214.42,143.01 1216.5,134.73 1219.55,128.39C1222.37,122.52 1226.3,117.11 1228.83,111.98C1230.95,107.67 1232.07,102.91 1234.02,99.75C1235.44,97.43 1237.08,95.51 1238.66,94.28C1239.83,93.36 1241.13,92.33 1242.2,92.51C1243.32,92.7 1244.38,93.9 1245.21,95.57C1247.04,99.26 1247.14,108.73 1248.21,116.16C1249.48,124.92 1250.41,137.76 1252.31,144.79C1253.47,149.12 1254.09,152.25 1256.4,154.93C1258.82,157.74 1263.61,159.57 1266.78,161.04C1269.23,162.18 1270.51,162.75 1273.6,163.45C1279.61,164.82 1291.79,165.76 1300.9,166.35C1309.99,166.94 1319.1,166.78 1328.2,166.99" stroke="#1a1a1a" stroke-width="2.2" fill="none" stroke-linejoin="round" stroke-linecap="round"/>
<path d="M1328.2,166.99C1310,167.26 1290.95,167.55 1273.6,167.8C1257.79,168.03 1238.44,167.4 1228.28,168.44C1223.06,168.97 1220.2,169.31 1216.54,170.69C1212.92,172.06 1209.74,174.32 1206.44,176.65C1202.9,179.14 1199.63,183.23 1196.07,185.33C1192.96,187.16 1189.65,189.23 1186.51,189.03C1183.28,188.83 1179.95,185.57 1176.96,183.88C1174.25,182.36 1171.78,180.57 1169.31,179.38C1167.16,178.34 1165.4,177.61 1163.04,176.97C1160.16,176.19 1156.66,175.76 1153.21,175.36C1149.41,174.92 1144.97,174.68 1141.2,174.55C1137.83,174.44 1134.06,173.72 1131.64,174.55C1129.86,175.17 1128.82,176.23 1127.55,177.77C1125.72,179.98 1124.49,184.5 1122.63,187.26C1120.98,189.72 1119.21,192.2 1117.17,193.7C1115.42,194.98 1113.45,195.83 1111.44,196.11C1109.36,196.4 1107.01,195.66 1104.89,195.31C1102.83,194.96 1100.88,194.61 1098.88,194.02C1096.79,193.4 1094.9,192.75 1092.6,191.61C1089.51,190.07 1085.95,187.08 1082.23,185.17C1078.25,183.13 1073.28,181.38 1069.4,179.86C1066.22,178.62 1063.98,177.56 1060.66,176.65C1056.48,175.49 1051.31,174.62 1046.19,173.91C1040.47,173.12 1033.55,172.72 1027.9,172.3C1023.02,171.94 1018.8,171.69 1014.25,171.5C1009.7,171.31 1005.15,171.28 1000.6,171.18" stroke="#1a1a1a" stroke-width="2.2" fill="none" stroke-linejoin="round" stroke-linecap="round"/>
<path d="M1000.6,174.23C1005.61,173.59 1010.22,172.86 1015.62,172.3C1021.9,171.65 1027.88,171.16 1036.09,170.69C1048.43,169.99 1066.17,169.48 1082.5,169.08C1100.73,168.64 1125.26,168.79 1140.38,168.28C1150.12,167.95 1156.77,167.63 1164.4,166.99C1171.36,166.41 1178.32,166.5 1184.33,164.74C1189.76,163.15 1195,160.6 1199.07,157.5C1202.77,154.69 1205.54,151.38 1208.08,147.37C1210.96,142.82 1212.71,136.92 1214.9,131.28C1217.28,125.17 1219.61,118.53 1221.73,111.98C1223.89,105.29 1225.16,97.64 1227.74,91.55C1230.02,86.16 1233.16,80.37 1235.93,77.07C1237.73,74.92 1239.84,73.65 1241.39,72.56C1242.42,71.84 1243.37,70.7 1244.12,70.96C1245.15,71.31 1245.7,74.21 1246.3,76.59C1247.25,80.34 1247.48,85.94 1248.21,91.55C1249.15,98.74 1250.19,108.36 1251.49,116.16C1252.68,123.31 1253.25,131.15 1255.58,136.59C1257.38,140.78 1259.38,144.35 1262.68,146.72C1266.29,149.32 1271.84,149.6 1276.88,150.91C1282.5,152.36 1289.01,153.35 1294.89,154.93C1300.66,156.47 1306.19,158.75 1311.82,160.24C1317.29,161.68 1322.74,162.6 1328.2,163.78" stroke="#f01c2c" stroke-width="2.2" fill="none" stroke-linejoin="round" stroke-linecap="round"/>
<path d="M1328.2,163.78C1319.1,164.63 1311.57,165.69 1300.9,166.35C1285.84,167.28 1261.54,167 1246.3,167.96C1235.29,168.65 1224.91,167.62 1217.91,170.69C1212.76,172.95 1210.09,176.96 1206.44,180.99C1202.3,185.57 1198.66,193.24 1194.7,197.08C1191.82,199.87 1188.65,203.1 1185.97,203.03C1183.6,202.97 1181.23,200.06 1179.41,198.04C1177.58,195.99 1177.05,192.89 1175.05,190.8C1172.82,188.47 1169.37,186.33 1166.31,185.01C1163.44,183.77 1160.76,183.54 1157.3,182.92C1152.72,182.09 1146.18,181.32 1141.2,180.83C1136.9,180.41 1131.87,179.02 1129.18,180.02C1127.45,180.67 1126.7,182.22 1125.63,183.56C1124.5,184.99 1123.54,186.6 1122.63,188.39C1121.6,190.41 1120.89,192.71 1119.9,195.14C1118.74,198.01 1117.46,201.36 1116.08,204.48C1114.65,207.69 1113.33,211.96 1111.44,214.13C1110.07,215.69 1108.37,216.26 1106.8,217.18C1105.27,218.08 1103.63,219.41 1102.16,219.6C1100.92,219.76 1099.77,219.18 1098.61,218.79C1097.4,218.39 1096.28,217.95 1095.06,217.18C1093.49,216.21 1091.65,214.62 1090.14,213.16C1088.65,211.72 1087.4,210.25 1086.05,208.5C1084.48,206.46 1083.08,203.97 1081.41,201.58C1079.56,198.94 1077.52,195.38 1075.4,193.38C1073.75,191.81 1072.17,191.26 1070.21,190C1067.68,188.36 1064.93,185.93 1061.48,184.37C1057.21,182.44 1051.7,181.21 1046.19,180.02C1039.9,178.67 1031.56,177.77 1025.72,176.97C1021.35,176.37 1018.24,175.96 1014.25,175.52C1009.9,175.04 1005.15,174.66 1000.6,174.23" stroke="#f01c2c" stroke-width="2.2" fill="none" stroke-linejoin="round" stroke-linecap="round"/>
<path d="M1000.6,178.74C1003.88,177.77 1006.76,176.69 1010.43,175.84C1014.94,174.8 1020.23,173.96 1025.72,173.27C1032.03,172.46 1038.39,172.04 1046.19,171.5C1056.57,170.77 1068.99,170.11 1082.5,169.57C1099.55,168.88 1124.34,169.4 1140.38,167.96C1151.88,166.92 1161.83,165.39 1169.86,163.45C1175.6,162.07 1179.98,160.64 1184.33,158.63C1188.26,156.81 1191.78,155.27 1194.98,152.19C1198.86,148.47 1201.78,142.31 1205.08,136.91C1208.62,131.1 1212.16,125.08 1215.45,118.41C1219.11,110.99 1222.91,101.54 1225.83,94.28C1228.18,88.41 1229.51,82.72 1231.83,78.19C1233.71,74.53 1236.08,72.07 1238.11,68.86C1240.18,65.58 1241.71,60.95 1244.12,58.73C1245.97,57.02 1248.49,55.89 1250.39,55.67C1251.87,55.51 1253.41,55.54 1254.49,56.64C1256.5,58.69 1256.72,65.25 1257.49,70.96C1258.61,79.23 1258.49,91.81 1259.4,101.68C1260.26,110.91 1260.58,121.34 1262.68,128.39C1264.17,133.4 1265.54,138.07 1268.69,140.61C1271.72,143.06 1276.72,142.97 1280.97,143.67C1285.44,144.4 1290.07,143.9 1294.89,144.79C1300.31,145.8 1306.24,148.03 1311.82,149.78C1317.34,151.51 1322.74,153.43 1328.2,155.25" stroke="#1c14e6" stroke-width="2.2" fill="none" stroke-linejoin="round" stroke-linecap="round"/>
<path d="M1328.2,155.25C1321.38,157.34 1315.5,159.85 1307.73,161.52C1297.87,163.64 1285.51,164.76 1273.6,165.87C1260.59,167.08 1242.6,166.83 1232.65,168.28C1226.83,169.13 1223.26,169.2 1219,171.5C1214.07,174.15 1209.57,179.55 1205.35,184.37C1200.88,189.46 1197.22,197.12 1193.07,201.42C1189.91,204.68 1186.58,208.88 1183.51,208.82C1180.58,208.76 1177.92,204.27 1175.05,201.74C1171.92,198.99 1168.78,194.76 1165.49,192.89C1162.83,191.38 1160.52,191.19 1157.3,190.48C1152.86,189.5 1146.42,188.86 1141.2,188.07C1136.24,187.31 1129.7,184.82 1126.73,185.81C1125.04,186.38 1124.49,187.84 1123.45,189.19C1122.19,190.84 1121.03,192.89 1119.9,195.14C1118.54,197.86 1117.51,201.14 1116.08,204.48C1114.39,208.4 1112.38,213.2 1110.35,217.18C1108.45,220.89 1106.39,224.51 1104.34,227.64C1102.55,230.38 1100.59,233.33 1098.88,235.04C1097.74,236.18 1096.82,236.92 1095.6,237.45C1094.37,238 1092.8,238.41 1091.51,238.26C1090.26,238.11 1089.09,237.66 1087.96,236.65C1086.18,235.05 1084.35,231.06 1083.05,228.28C1081.86,225.75 1081.31,223.12 1080.32,220.72C1079.39,218.47 1078.38,216.46 1077.31,214.29C1076.2,212.01 1075.02,209.67 1073.76,207.37C1072.48,205.01 1071.32,202.42 1069.67,200.29C1068.04,198.19 1066.06,196.29 1063.94,194.66C1061.79,193.01 1059.06,191.72 1056.84,190.48C1054.91,189.4 1053.72,188.5 1051.38,187.58C1047.63,186.12 1041.59,184.76 1036.09,183.56C1029.79,182.19 1021.93,180.84 1015.62,180.02C1010.24,179.33 1005.61,179.17 1000.6,178.74" stroke="#1c14e6" stroke-width="2.2" fill="none" stroke-linejoin="round" stroke-linecap="round"/>
<path d="M1000.6,182.76C1003.88,180.99 1006.68,178.8 1010.43,177.45C1014.86,175.85 1020.23,175.28 1025.72,174.39C1032.03,173.37 1038.38,172.52 1046.19,171.82C1056.56,170.89 1068.99,170.49 1082.5,169.89C1099.55,169.13 1124.35,169.48 1140.38,167.8C1151.89,166.59 1161.85,164.88 1169.86,162.65C1175.63,161.04 1179.93,159.03 1184.33,157.02C1188.21,155.25 1191.79,154.27 1194.98,151.39C1198.9,147.83 1201.78,141.51 1205.08,136.11C1208.62,130.3 1212.17,124.31 1215.45,117.61C1219.13,110.08 1222.33,100.95 1225.83,92.99C1229.16,85.42 1232.19,77.35 1235.93,70.96C1239.12,65.49 1242.71,60 1246.3,56.64C1248.96,54.15 1251.87,52.02 1254.49,51.49C1256.56,51.07 1258.89,51.28 1260.5,52.46C1262.46,53.9 1263.41,57.21 1264.59,60.66C1266.38,65.88 1267.43,73.68 1268.69,81.25C1270.21,90.45 1271.14,103.37 1272.78,111.98C1273.99,118.34 1274.54,123.79 1276.88,128.39C1278.94,132.45 1282.08,136.29 1285.34,138.52C1288.19,140.47 1290.67,140.93 1294.89,141.74C1302.57,143.2 1317.1,142.92 1328.2,143.51" stroke="#0c8478" stroke-width="2.2" fill="none" stroke-linejoin="round" stroke-linecap="round"/>
<path d="M1328.2,143.51C1321.38,147.42 1314.77,152.17 1307.73,155.25C1300.92,158.23 1294.2,160.12 1286.7,161.85C1278.39,163.76 1268.93,164.8 1259.95,165.87C1250.91,166.94 1240.13,166.86 1232.65,168.28C1227.26,169.3 1223.21,169.64 1219,172.3C1213.95,175.49 1209.81,182.22 1205.35,187.58C1200.7,193.19 1196.24,200.77 1191.7,205.28C1188.24,208.72 1184.41,212.95 1181.33,213.16C1179.03,213.32 1177.18,211.31 1175.05,209.62C1172.2,207.37 1169.5,202.43 1166.31,200.13C1163.52,198.13 1160.82,197.14 1157.3,196.11C1152.78,194.79 1146.62,194.62 1141.2,193.7C1135.61,192.75 1127.55,189.84 1124.27,190.48C1122.78,190.77 1122,191.59 1121.27,192.41C1120.58,193.17 1120.44,193.95 1119.9,195.14C1118.92,197.32 1117.51,201.14 1116.08,204.48C1114.39,208.4 1112.38,213.2 1110.35,217.18C1108.45,220.89 1106.51,224.75 1104.34,227.64C1102.54,230.03 1100.59,231.72 1098.61,233.59C1096.67,235.42 1094.71,237.58 1092.6,238.74C1090.77,239.75 1088.82,240.32 1086.87,240.51C1084.91,240.7 1082.79,240.44 1080.86,239.87C1078.87,239.28 1076.86,238.43 1075.13,236.97C1073.05,235.22 1071.28,232.36 1069.67,229.57C1067.86,226.44 1066.63,222.07 1065.03,218.95C1063.7,216.36 1062.48,214.44 1060.93,212.04C1059.16,209.28 1056.7,205.75 1054.93,203.35C1053.62,201.58 1053.05,200.31 1051.38,198.84C1048.95,196.73 1044.9,194.51 1041,192.73C1036.49,190.67 1030.85,189.04 1025.72,187.58C1020.65,186.15 1014.98,184.87 1010.43,184.04C1006.81,183.39 1003.88,183.19 1000.6,182.76" stroke="#0c8478" stroke-width="2.2" fill="none" stroke-linejoin="round" stroke-linecap="round"/>
<path d="M1000.6,187.1C1002.15,185.76 1003.27,184.34 1005.24,183.08C1007.92,181.37 1011.74,179.57 1015.62,178.41C1020.14,177.07 1025.8,176.67 1030.9,176C1035.99,175.33 1040.72,174.96 1046.19,174.39C1052.52,173.74 1059.28,172.95 1066.67,172.3C1075.35,171.54 1086.07,170.76 1095.06,170.21C1103.18,169.71 1109.88,169.47 1118.26,169.08C1128.18,168.62 1142.26,168.62 1150.75,167.64C1156.3,166.99 1160.19,166.28 1164.4,165.06C1168.22,163.96 1171.65,162.4 1175.05,160.88C1178.28,159.44 1181.13,157.82 1184.33,156.22C1187.75,154.5 1191.82,153.79 1194.98,150.91C1198.99,147.24 1201.74,140.15 1205.08,134.5C1208.57,128.59 1212.17,122.82 1215.45,116.16C1219.14,108.65 1222.47,99.95 1225.83,91.55C1229.3,82.86 1232.11,72.5 1235.93,64.84C1239.08,58.53 1242.42,52.51 1246.3,48.43C1249.4,45.19 1253.3,42.08 1256.4,41.36C1258.63,40.84 1260.73,41.42 1262.68,42.32C1264.86,43.32 1267.13,44.73 1268.69,47.47C1271.39,52.22 1271.49,62.59 1272.78,70.96C1274.25,80.5 1275.39,92.25 1276.88,101.68C1278.15,109.79 1278.86,117.94 1280.97,124.2C1282.61,129.08 1284.47,134.05 1287.25,136.59C1289.39,138.55 1291.36,138.98 1294.89,139.65C1302,140.98 1317.1,139.43 1328.2,139.32" stroke="#ec1cec" stroke-width="2.2" fill="none" stroke-linejoin="round" stroke-linecap="round"/>
<path d="M1328.2,139.32C1321.38,142.54 1314.64,145.97 1307.73,148.98C1300.81,151.98 1293.81,155.05 1286.7,157.34C1279.7,159.6 1272.54,161.23 1265.41,162.65C1258.35,164.06 1250.69,164.87 1244.12,165.87C1238.45,166.73 1232.77,167.48 1228.28,168.28C1224.93,168.87 1222.39,168.6 1219.55,170.05C1215.98,171.86 1212.37,175.71 1209.17,179.54C1205.45,184 1202.48,190.28 1199.07,195.63C1195.65,201 1192.46,207.61 1188.7,211.71C1185.71,214.98 1182.35,219.13 1179.14,219.11C1175.88,219.1 1172.4,213.86 1169.31,211.39C1166.52,209.16 1164.16,206.73 1161.4,204.96C1158.78,203.28 1156.27,201.98 1153.21,200.94C1149.65,199.73 1145.64,199.35 1141.2,198.52C1135.68,197.49 1125.99,194.55 1122.63,195.31C1121.22,195.62 1120.77,196.24 1119.9,197.24C1118.54,198.79 1117.44,201.7 1116.08,204.48C1114.31,208.1 1112.38,213.2 1110.35,217.18C1108.45,220.89 1106.34,224.27 1104.34,227.64C1102.43,230.85 1100.66,234.17 1098.61,236.97C1096.73,239.53 1094.69,241.97 1092.6,243.89C1090.76,245.58 1088.99,247.13 1086.87,248.07C1084.72,249.02 1081.89,249.52 1079.77,249.52C1078.06,249.51 1076.69,249.23 1075.13,248.55C1073.23,247.73 1071.21,246.24 1069.4,244.53C1067.26,242.52 1065.02,239.57 1063.39,236.97C1061.89,234.57 1061.11,232.26 1059.84,229.57C1058.33,226.35 1056.61,221.79 1054.93,218.95C1053.68,216.85 1052.41,215.68 1051.11,213.81C1049.6,211.65 1048.28,208.79 1046.46,206.73C1044.71,204.73 1042.7,203.3 1040.46,201.58C1037.87,199.6 1034.97,197.25 1031.72,195.63C1028.2,193.87 1023.75,192.71 1019.98,191.61C1016.58,190.61 1013.41,189.95 1010.15,189.19C1006.95,188.45 1003.78,187.8 1000.6,187.1" stroke="#ec1cec" stroke-width="2.2" fill="none" stroke-linejoin="round" stroke-linecap="round"/>
<line x1="1017.5" y1="43.1" x2="1042.5" y2="43.1" stroke="#1a1a1a" stroke-width="2.1"/>
<text x="1045.1" y="46.8" font-size="17.3" word-spacing="0.6" fill="#111111">0.1 mV s<tspan font-size="9.8" dx="-0.2" dy="-8.9">-1</tspan></text>
<line x1="1017.5" y1="68.2" x2="1042.5" y2="68.2" stroke="#f01c2c" stroke-width="2.1"/>
<text x="1045.1" y="71.9" font-size="17.3" word-spacing="0.6" fill="#f5000a">0.2 mV s<tspan font-size="9.8" dx="-0.2" dy="-8.9">-1</tspan></text>
<line x1="1017.5" y1="93.3" x2="1042.5" y2="93.3" stroke="#1c14e6" stroke-width="2.1"/>
<text x="1045.1" y="97" font-size="17.3" word-spacing="0.6" fill="#0000f0">0.3 mV s<tspan font-size="9.8" dx="-0.2" dy="-8.9">-1</tspan></text>
<line x1="1017.5" y1="118.4" x2="1042.5" y2="118.4" stroke="#0c8478" stroke-width="2.1"/>
<text x="1045.1" y="122.1" font-size="17.3" word-spacing="0.6" fill="#007f7f">0.4 mV s<tspan font-size="9.8" dx="-0.2" dy="-8.9">-1</tspan></text>
<line x1="1017.5" y1="143.5" x2="1042.5" y2="143.5" stroke="#ec1cec" stroke-width="2.1"/>
<text x="1045.1" y="147.2" font-size="17.3" word-spacing="0.6" fill="#f000f0">0.5 mV s<tspan font-size="9.8" dx="-0.2" dy="-8.9">-1</tspan></text>
<text x="1164.4" y="321.3" text-anchor="middle" font-size="19">Voltage (V vs. Li/Li<tspan font-size="11" dy="-10.5">+</tspan><tspan dy="10.5">)</tspan></text>
<text transform="translate(928.5,178) rotate(-90)" text-anchor="middle" font-size="19.8">Current (mA)</text>
<text x="22.6" y="47.7" font-size="33.5">(a)</text>
<text x="472.7" y="47.6" font-size="33.5">(b)</text>
<text x="919.7" y="47.6" font-size="33.5">(c)</text>
<text x="22.7" y="376.9" font-size="33.5">(d)</text>
<text x="473.0" y="376.9" font-size="33.5">(e)</text>
<text x="920.1" y="372.5" font-size="33.5">(f)</text>
<text x="355.1" y="47.4" font-size="18.7">I</text>
<text x="362.1" y="55.2" font-size="10.8">A</text>
<text x="301.8" y="227.6" font-size="18.7">I</text>
<text x="308.8" y="235.4" font-size="10.8">B</text>
<text x="151.3" y="248.3" font-size="18.7">I</text>
<text x="158.3" y="256.1" font-size="10.8">C</text>
<text x="822.1" y="52.9" font-size="18.7">I</text>
<text x="829.1" y="60.7" font-size="10.8">A</text>
<text x="742.1" y="219.4" font-size="18.7">I</text>
<text x="749.1" y="227.2" font-size="10.8">B</text>
<text x="591.7" y="247.6" font-size="18.7">I</text>
<text x="598.7" y="255.4" font-size="10.8">C</text>
<text x="1281.5" y="53.4" font-size="18.7">I</text>
<text x="1288.5" y="61.2" font-size="10.8">A</text>
<text x="1203.7" y="222.7" font-size="18.7">I</text>
<text x="1210.7" y="230.5" font-size="10.8">B</text>
<text x="1040.7" y="248.4" font-size="18.7">I</text>
<text x="1047.7" y="256.2" font-size="10.8">C</text>
<rect x="99.2" y="364.1" width="324.2" height="238.3" fill="none" stroke="#1a1a1a" stroke-width="2.0"/>
<path d="M164.04,602.4v5.2M250.49,602.4v5.2M336.95,602.4v5.2M423.4,602.4v5.2M120.81,602.4v3.2M207.27,602.4v3.2M293.72,602.4v3.2M380.17,602.4v3.2M99.2,602.4h-5M99.2,575.92h-5M99.2,549.44h-5M99.2,522.97h-5M99.2,496.49h-5M99.2,470.01h-5M99.2,443.53h-5M99.2,417.06h-5M99.2,390.58h-5M99.2,364.1h-5M99.2,589.16h-3M99.2,562.68h-3M99.2,536.21h-3M99.2,509.73h-3M99.2,483.25h-3M99.2,456.77h-3M99.2,430.29h-3M99.2,403.82h-3M99.2,377.34h-3" stroke="#1a1a1a" stroke-width="2.0" fill="none"/>
<text x="164.04" y="625" text-anchor="middle" font-size="18.5">0.012</text>
<text x="250.49" y="625" text-anchor="middle" font-size="18.5">0.016</text>
<text x="336.95" y="625" text-anchor="middle" font-size="18.5">0.020</text>
<text x="423.4" y="625" text-anchor="middle" font-size="18.5">0.024</text>
<text x="90.9" y="607.2" text-anchor="end" font-size="18.5">3</text>
<text x="90.9" y="580.72" text-anchor="end" font-size="18.5">4</text>
<text x="90.9" y="554.24" text-anchor="end" font-size="18.5">5</text>
<text x="90.9" y="527.77" text-anchor="end" font-size="18.5">6</text>
<text x="90.9" y="501.29" text-anchor="end" font-size="18.5">7</text>
<text x="90.9" y="474.81" text-anchor="end" font-size="18.5">8</text>
<text x="90.9" y="448.33" text-anchor="end" font-size="18.5">9</text>
<text x="90.9" y="421.86" text-anchor="end" font-size="18.5">10</text>
<text x="90.9" y="395.38" text-anchor="end" font-size="18.5">11</text>
<text x="90.9" y="368.9" text-anchor="end" font-size="18.5">12</text>
<line x1="99.2" y1="569.85" x2="414.32" y2="377.31" stroke="#f01c2c" stroke-width="2.1"/>
<rect x="118.31" y="553.03" width="5" height="5" fill="#f01c2c"/>
<rect x="207.84" y="501.93" width="5" height="5" fill="#f01c2c"/>
<rect x="276.53" y="453.21" width="5" height="5" fill="#f01c2c"/>
<rect x="334.45" y="428.32" width="5" height="5" fill="#f01c2c"/>
<rect x="385.47" y="387.55" width="5" height="5" fill="#f01c2c"/>
<line x1="99.2" y1="591.92" x2="414.32" y2="519.12" stroke="#7a800a" stroke-width="2.1"/>
<rect x="118.31" y="582.69" width="5" height="5" fill="#7a800a"/>
<rect x="207.84" y="567.33" width="5" height="5" fill="#7a800a"/>
<rect x="276.53" y="546.41" width="5" height="5" fill="#7a800a"/>
<rect x="334.45" y="534.24" width="5" height="5" fill="#7a800a"/>
<rect x="385.47" y="522.58" width="5" height="5" fill="#7a800a"/>
<line x1="99.2" y1="558.11" x2="414.32" y2="462.59" stroke="#1c14e6" stroke-width="2.1"/>
<rect x="118.31" y="553.03" width="5" height="5" fill="#1c14e6"/>
<rect x="207.84" y="519.94" width="5" height="5" fill="#1c14e6"/>
<rect x="276.53" y="492.67" width="5" height="5" fill="#1c14e6"/>
<rect x="334.45" y="487.63" width="5" height="5" fill="#1c14e6"/>
<rect x="385.47" y="470.42" width="5" height="5" fill="#1c14e6"/>
<text x="124.2" y="386.4" font-size="19" fill="#0000f0">Ni/NCF</text>
<text x="124.2" y="409.4" font-size="19" fill="#747c08">NiS/NCF</text>
<text x="124.2" y="432.4" font-size="19" fill="#f5000a">Ni-NiS/NCF</text>
<text x="175.2" y="476.6" font-size="18.7">I</text>
<text x="182.2" y="484.4" font-size="10.8">A</text>
<text x="137.3" y="659.8" font-size="19.0">Square root scan rates (V<tspan dx="1.2"> s</tspan><tspan font-size="11.3" dy="-9.5">-1</tspan><tspan dy="9.5">)</tspan><tspan font-size="11.5" dx="0.8" dy="-10.5">0.5</tspan></text>
<text transform="translate(60.6,495.2) rotate(-90)" text-anchor="middle" font-size="19.5">Peak Current (mA)</text>
<rect x="547.1" y="363.8" width="333.2" height="244.9" fill="none" stroke="#1a1a1a" stroke-width="2.0"/>
<path d="M613.74,608.7v5.2M702.59,608.7v5.2M791.45,608.7v5.2M880.3,608.7v5.2M569.31,608.7v3.2M658.17,608.7v3.2M747.02,608.7v3.2M835.87,608.7v3.2M547.1,608.7h-5M547.1,547.48h-5M547.1,486.25h-5M547.1,425.03h-5M547.1,363.8h-5M547.1,578.09h-3M547.1,516.86h-3M547.1,455.64h-3M547.1,394.41h-3" stroke="#1a1a1a" stroke-width="2.0" fill="none"/>
<text x="613.74" y="631.3" text-anchor="middle" font-size="18.5">0.012</text>
<text x="702.59" y="631.3" text-anchor="middle" font-size="18.5">0.016</text>
<text x="791.45" y="631.3" text-anchor="middle" font-size="18.5">0.020</text>
<text x="880.3" y="631.3" text-anchor="middle" font-size="18.5">0.024</text>
<text x="538.8" y="613.5" text-anchor="end" font-size="18.5">1</text>
<text x="538.8" y="552.27" text-anchor="end" font-size="18.5">2</text>
<text x="538.8" y="491.05" text-anchor="end" font-size="18.5">3</text>
<text x="538.8" y="429.83" text-anchor="end" font-size="18.5">4</text>
<text x="538.8" y="368.6" text-anchor="end" font-size="18.5">5</text>
<line x1="547.1" y1="585.77" x2="870.97" y2="387.4" stroke="#f01c2c" stroke-width="2.1"/>
<rect x="566.81" y="568.85" width="5" height="5" fill="#f01c2c"/>
<rect x="658.82" y="514.36" width="5" height="5" fill="#f01c2c"/>
<rect x="729.43" y="467.22" width="5" height="5" fill="#f01c2c"/>
<rect x="788.95" y="440.28" width="5" height="5" fill="#f01c2c"/>
<rect x="841.39" y="397.42" width="5" height="5" fill="#f01c2c"/>
<line x1="547.1" y1="606.81" x2="870.97" y2="485.73" stroke="#7a800a" stroke-width="2.1"/>
<rect x="566.81" y="600.08" width="5" height="5" fill="#7a800a"/>
<rect x="658.82" y="558.44" width="5" height="5" fill="#7a800a"/>
<rect x="729.43" y="530.89" width="5" height="5" fill="#7a800a"/>
<rect x="788.95" y="511.91" width="5" height="5" fill="#7a800a"/>
<rect x="841.39" y="497.83" width="5" height="5" fill="#7a800a"/>
<line x1="547.1" y1="599.83" x2="870.97" y2="464.96" stroke="#1c14e6" stroke-width="2.1"/>
<rect x="566.81" y="594.57" width="5" height="5" fill="#1c14e6"/>
<rect x="658.82" y="541.91" width="5" height="5" fill="#1c14e6"/>
<rect x="729.43" y="516.2" width="5" height="5" fill="#1c14e6"/>
<rect x="788.95" y="497.83" width="5" height="5" fill="#1c14e6"/>
<rect x="841.39" y="477.02" width="5" height="5" fill="#1c14e6"/>
<text x="572.5" y="390.3" font-size="19" fill="#0000f0">Ni/NCF</text>
<text x="572.5" y="413.9" font-size="19" fill="#747c08">NiS/NCF</text>
<text x="572.5" y="437.5" font-size="19" fill="#f5000a">Ni-NiS/NCF</text>
<text x="621.7" y="492.7" font-size="18.7">I</text>
<text x="628.7" y="500.5" font-size="10.8">B</text>
<text x="586" y="667.4" font-size="19.4">Square root scan rates (V<tspan dx="1.2"> s</tspan><tspan font-size="11.3" dy="-9.5">-1</tspan><tspan dy="9.5">)</tspan><tspan font-size="11.5" dx="0.8" dy="-10.5">0.5</tspan></text>
<text transform="translate(514,497.9) rotate(-90)" text-anchor="middle" font-size="19.5">Peak Current (mA)</text>
<rect x="1005.8" y="363.6" width="333.4" height="245.1" fill="none" stroke="#1a1a1a" stroke-width="2.0"/>
<path d="M1072.48,608.7v5.2M1161.39,608.7v5.2M1250.29,608.7v5.2M1339.2,608.7v5.2M1028.03,608.7v3.2M1116.93,608.7v3.2M1205.84,608.7v3.2M1294.75,608.7v3.2M1005.8,592.36h-5M1005.8,559.68h-5M1005.8,527h-5M1005.8,494.32h-5M1005.8,461.64h-5M1005.8,428.96h-5M1005.8,396.28h-5M1005.8,363.6h-5M1005.8,576.02h-3M1005.8,543.34h-3M1005.8,510.66h-3M1005.8,477.98h-3M1005.8,445.3h-3M1005.8,412.62h-3M1005.8,379.94h-3" stroke="#1a1a1a" stroke-width="2.0" fill="none"/>
<text x="1072.48" y="631.3" text-anchor="middle" font-size="18.5">0.012</text>
<text x="1161.39" y="631.3" text-anchor="middle" font-size="18.5">0.016</text>
<text x="1250.29" y="631.3" text-anchor="middle" font-size="18.5">0.020</text>
<text x="1339.2" y="631.3" text-anchor="middle" font-size="18.5">0.024</text>
<text x="997.5" y="597.16" text-anchor="end" font-size="18.5">2</text>
<text x="997.5" y="564.48" text-anchor="end" font-size="18.5">3</text>
<text x="997.5" y="531.8" text-anchor="end" font-size="18.5">4</text>
<text x="997.5" y="499.12" text-anchor="end" font-size="18.5">5</text>
<text x="997.5" y="466.44" text-anchor="end" font-size="18.5">6</text>
<text x="997.5" y="433.76" text-anchor="end" font-size="18.5">7</text>
<text x="997.5" y="401.08" text-anchor="end" font-size="18.5">8</text>
<text x="997.5" y="368.4" text-anchor="end" font-size="18.5">9</text>
<line x1="1005.8" y1="554.53" x2="1329.86" y2="407.6" stroke="#f01c2c" stroke-width="2.1"/>
<rect x="1025.53" y="541.82" width="5" height="5" fill="#f01c2c"/>
<rect x="1117.59" y="500.64" width="5" height="5" fill="#f01c2c"/>
<rect x="1188.24" y="465.35" width="5" height="5" fill="#f01c2c"/>
<rect x="1247.79" y="446.39" width="5" height="5" fill="#f01c2c"/>
<rect x="1300.26" y="414.7" width="5" height="5" fill="#f01c2c"/>
<line x1="1005.8" y1="585.23" x2="1329.86" y2="496.51" stroke="#7a800a" stroke-width="2.1"/>
<rect x="1025.53" y="577.77" width="5" height="5" fill="#7a800a"/>
<rect x="1117.59" y="549.99" width="5" height="5" fill="#7a800a"/>
<rect x="1188.24" y="532.67" width="5" height="5" fill="#7a800a"/>
<rect x="1247.79" y="513.72" width="5" height="5" fill="#7a800a"/>
<rect x="1300.26" y="503.26" width="5" height="5" fill="#7a800a"/>
<line x1="1005.8" y1="601.5" x2="1329.86" y2="475.85" stroke="#1c14e6" stroke-width="2.1"/>
<rect x="1025.53" y="598.03" width="5" height="5" fill="#1c14e6"/>
<rect x="1117.59" y="549.34" width="5" height="5" fill="#1c14e6"/>
<rect x="1188.24" y="516" width="5" height="5" fill="#1c14e6"/>
<rect x="1247.79" y="506.85" width="5" height="5" fill="#1c14e6"/>
<rect x="1300.26" y="490.19" width="5" height="5" fill="#1c14e6"/>
<text x="1027" y="391.1" font-size="19" fill="#0000f0">Ni/NCF</text>
<text x="1027" y="414.6" font-size="19" fill="#747c08">NiS/NCF</text>
<text x="1027" y="438.1" font-size="19" fill="#f5000a">Ni-NiS/NCF</text>
<text x="1054.6" y="490.9" font-size="18.7">I</text>
<text x="1061.6" y="498.7" font-size="10.8">C</text>
<text x="1044.8" y="667.6" font-size="19.4">Square root scan rates (V<tspan dx="1.2"> s</tspan><tspan font-size="11.3" dy="-9.5">-1</tspan><tspan dy="9.5">)</tspan><tspan font-size="11.5" dx="0.8" dy="-10.5">0.5</tspan></text>
<text transform="translate(970.6,514) rotate(-90)" text-anchor="middle" font-size="19.5">Peak Current (mA)</text>
</svg></body></html>
